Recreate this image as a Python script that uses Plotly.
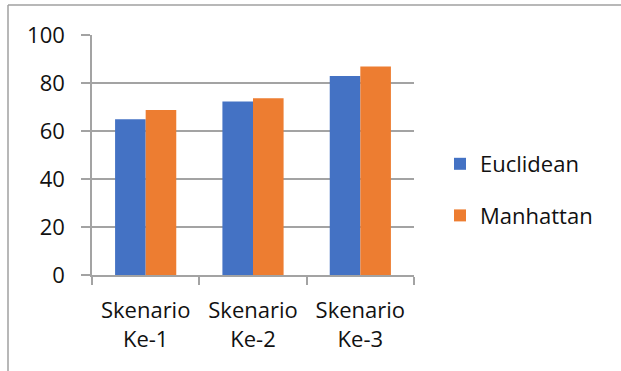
import plotly.graph_objects as go

# Chart data
categories = ["Skenario<br>Ke-1", "Skenario<br>Ke-2", "Skenario<br>Ke-3"]
euclidean = [64.9, 72.3, 82.9]
manhattan = [68.7, 73.6, 86.9]
y_ticks = [0, 20, 40, 60, 80, 100]

W, H = 621, 371
ML, MR, MT, MB = 92, 207, 35, 96
PW, PH = W - ML - MR, H - MT - MB

def px_x(p):
    return (p - ML) / PW

def px_y(p):
    return (H - MB - p) / PH

FONT = "Open Sans"
GRID = "#a3a3a3"
TEXT = "#111111"

fig = go.Figure()
fig.add_trace(go.Bar(name="Euclidean", x=categories, y=euclidean,
                     marker=dict(color="#4472C4", line=dict(width=0)),
                     legendgroup="e"))
fig.add_trace(go.Bar(name="Manhattan", x=categories, y=manhattan,
                     marker=dict(color="#ED7D31", line=dict(width=0)),
                     legendgroup="m"))

# Chart frame (top and left edges)
fig.add_shape(type="line", xref="paper", yref="paper",
              x0=px_x(8), x1=px_x(W + 5), y0=px_y(5), y1=px_y(5),
              line=dict(color="#a0a0a0", width=1.5))
fig.add_shape(type="line", xref="paper", yref="paper",
              x0=px_x(8), x1=px_x(8), y0=px_y(5), y1=px_y(H + 5),
              line=dict(color="#a0a0a0", width=1.5))

fig.update_layout(
    width=W, height=H,
    margin=dict(l=ML, r=MR, t=MT, b=MB, pad=0),
    paper_bgcolor="white", plot_bgcolor="white",
    barmode="group", bargap=0.43, bargroupgap=0,
    font=dict(family=FONT, size=22, color=TEXT),
    showlegend=True,
    legend=dict(x=px_x(440), y=px_y(190), xanchor="left", yanchor="middle",
                traceorder="grouped", tracegroupgap=20,
                font=dict(family=FONT, size=22, color=TEXT),
                bgcolor="rgba(0,0,0,0)"),
    xaxis=dict(
        showline=True, linecolor=GRID, linewidth=1.5,
        ticks="outside", ticklen=8, tickcolor=GRID, tickwidth=1.5,
        tickson="boundaries", showgrid=False, ticklabelstandoff=15,
        tickfont=dict(family=FONT, size=22, color=TEXT),
    ),
    yaxis=dict(
        range=[0, 100], tickvals=y_ticks,
        showline=True, linecolor=GRID, linewidth=1.5,
        ticks="outside", ticklen=9, tickcolor=GRID, tickwidth=1.5,
        showgrid=True, gridcolor=GRID, gridwidth=1.5, zeroline=False,
        ticklabelstandoff=12,
        tickfont=dict(family=FONT, size=22, color=TEXT),
    ),
)

fig.write_html("out.html")
